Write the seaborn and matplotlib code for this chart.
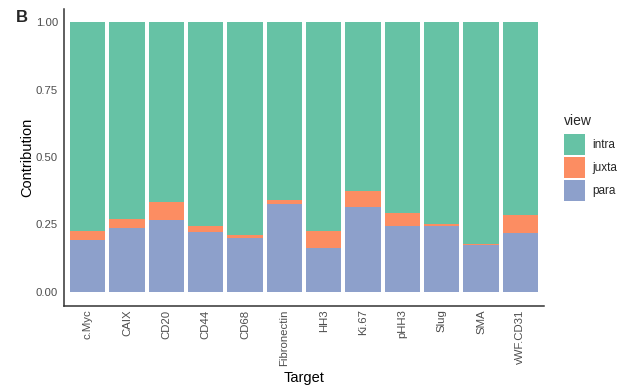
import matplotlib
matplotlib.use("Agg")
import matplotlib.pyplot as plt
import matplotlib.patches as mpatches
import seaborn as sns
import pandas as pd
import numpy as np

targets = ["c.Myc", "CAIX", "CD20", "CD44", "CD68", "Fibronectin",
           "HH3", "Ki.67", "pHH3", "Slug", "SMA", "vWF.CD31"]
para = [0.193, 0.237, 0.267, 0.223, 0.201, 0.327,
        0.164, 0.315, 0.244, 0.244, 0.173, 0.219]
juxta = [0.033, 0.032, 0.067, 0.021, 0.010, 0.015,
         0.062, 0.058, 0.049, 0.009, 0.005, 0.066]
intra = [1 - p - j for p, j in zip(para, juxta)]

views = ["intra", "juxta", "para"]
palette = {"intra": "#66C2A5", "juxta": "#FC8D62", "para": "#8DA0CB"}

df = pd.DataFrame({"Target": targets, "para": para, "juxta": juxta, "intra": intra})
df["top_para"] = df["para"]
df["top_juxta"] = df["para"] + df["juxta"]
df["top_intra"] = df["para"] + df["juxta"] + df["intra"]

sns.set_style("white")
plt.rcParams["font.family"] = ["Liberation Sans", "DejaVu Sans"]

fig = plt.figure(figsize=(6.23, 3.91), dpi=100)
ax = fig.add_axes([64 / 623, 1 - 305.5 / 391, 480 / 623, 297 / 391])

# stacked bars: draw cumulative tops from the largest down
for v in ["intra", "juxta", "para"]:
    sns.barplot(data=df, x="Target", y=f"top_{v}", color=palette[v],
                width=0.9, saturation=1, ax=ax, order=targets, errorbar=None,
                linewidth=0, edgecolor="none")

ax.set_xlim(-0.6, len(targets) - 0.4)
ax.set_ylim(-0.05, 1.05)
ax.set_yticks([0, 0.25, 0.5, 0.75, 1.0])
ax.set_yticklabels(["0.00", "0.25", "0.50", "0.75", "1.00"])
ax.set_xticks(range(len(targets)))
ax.set_xticklabels(targets, rotation=90, va="top", ha="center")

ax.tick_params(axis="both", colors="#333333", length=2.2, width=0.8,
               labelsize=8.2, labelcolor="#4D4D4D")
ax.tick_params(axis="x", pad=0.6)
ax.tick_params(axis="y", pad=2.2)
for side in ["top", "right"]:
    ax.spines[side].set_visible(False)
for side in ["left", "bottom"]:
    ax.spines[side].set_color("#333333")
    ax.spines[side].set_linewidth(1.1)

ax.set_xlabel("Target", fontsize=10.5, color="black", labelpad=3.5)
ax.set_ylabel("Contribution", fontsize=10.5, color="black", labelpad=1)

fig.text(16 / 623, 1 - 17 / 391, "B", fontsize=12, fontweight="bold",
         ha="left", va="center")

handles = [mpatches.Patch(facecolor=palette[v], edgecolor="none", label=v) for v in views]
leg = fig.legend(handles=handles, title="view", loc="upper left",
                 bbox_to_anchor=(564 / 623, 1 - 114 / 391), frameon=False,
                 fontsize=8.5, title_fontsize=10, handlelength=1.78, handleheight=2.36,
                 handletextpad=0.6, labelspacing=0.17, borderaxespad=0,
                 borderpad=0)
leg._legend_box.align = "left"
leg._legend_box.sep = 4.3

fig.savefig("out.png", dpi=100)
